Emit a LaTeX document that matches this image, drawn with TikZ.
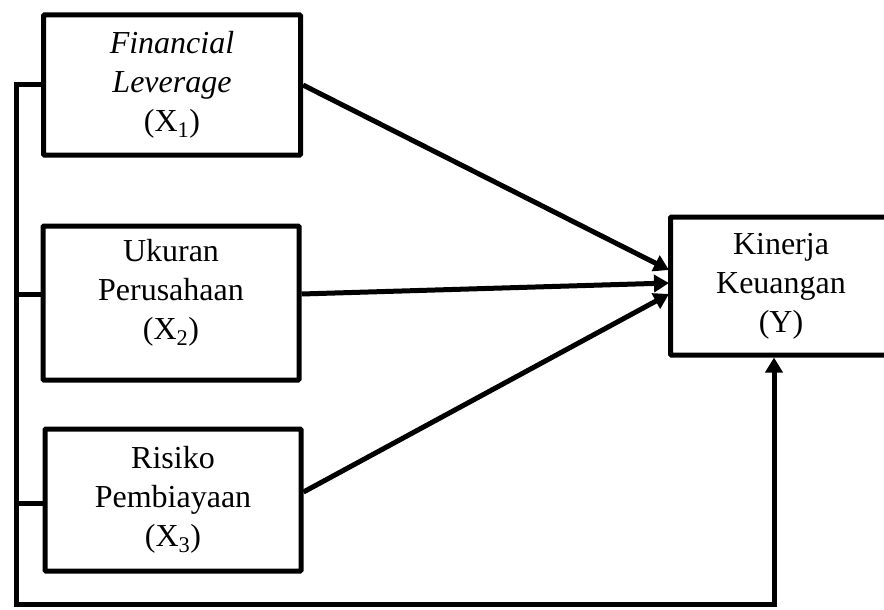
\documentclass[tikz,border=0pt]{standalone}
\usepackage{fontspec}
\setmainfont{Liberation Serif}
\usetikzlibrary{arrows.meta}
\tikzset{
  varbox/.style={draw=black, line width=5pt, rounded corners=1pt, fill=white, inner sep=0pt,
    align=center, font=\fontsize{32}{39}\selectfont},
  conn/.style={line width=5pt, draw=black},
  arr/.style={conn, -{Triangle[length=15pt,width=17pt]}}
}
\begin{document}
\begin{tikzpicture}[x=1pt,y=-1pt]
\useasboundingbox (0,0) rectangle (884,610);
\node[varbox, minimum width=257pt, minimum height=140pt] (X1) at (172,85) {\textit{Financial}\\\textit{Leverage}\\(X\textsubscript{1})};
\node[varbox, minimum width=256pt, minimum height=154pt] (X2) at (171,303) {Ukuran\\Perusahaan\\(X\textsubscript{2})\\[-12pt]};
\node[varbox, minimum width=256pt, minimum height=142pt] (X3) at (173,500) {Risiko\\Pembiayaan\\(X\textsubscript{3})};
\node[varbox, minimum width=221pt, minimum height=138pt] (Y) at (781,286) {Kinerja\\Keuangan\\(Y)};
% left feedback line
\coordinate (c1) at (16,85);
\coordinate (c2) at (16,294);
\coordinate (c3) at (16,503);
\coordinate (c4) at (16,604);
\coordinate (c5) at (774,604);
\draw[arr] (X1.west) -- (c1) -- (c4) -- (c5) -- (c5 |- Y.south);
\draw[conn] (c2) -- (X2.west |- c2);
\draw[conn] (c3) -- (X3.west |- c3);
% arrows into Y
\coordinate (t1) at (669,270);
\coordinate (t2) at (669,283);
\coordinate (t3) at (669,294);
\coordinate (s2) at (301,294);
\coordinate (s3) at (303,492);
\draw[arr] (X1.east) -- (t1);
\draw[arr] (X2.east |- s2) -- (t2);
\draw[arr] (X3.east |- s3) -- (t3);
\end{tikzpicture}
\end{document}
